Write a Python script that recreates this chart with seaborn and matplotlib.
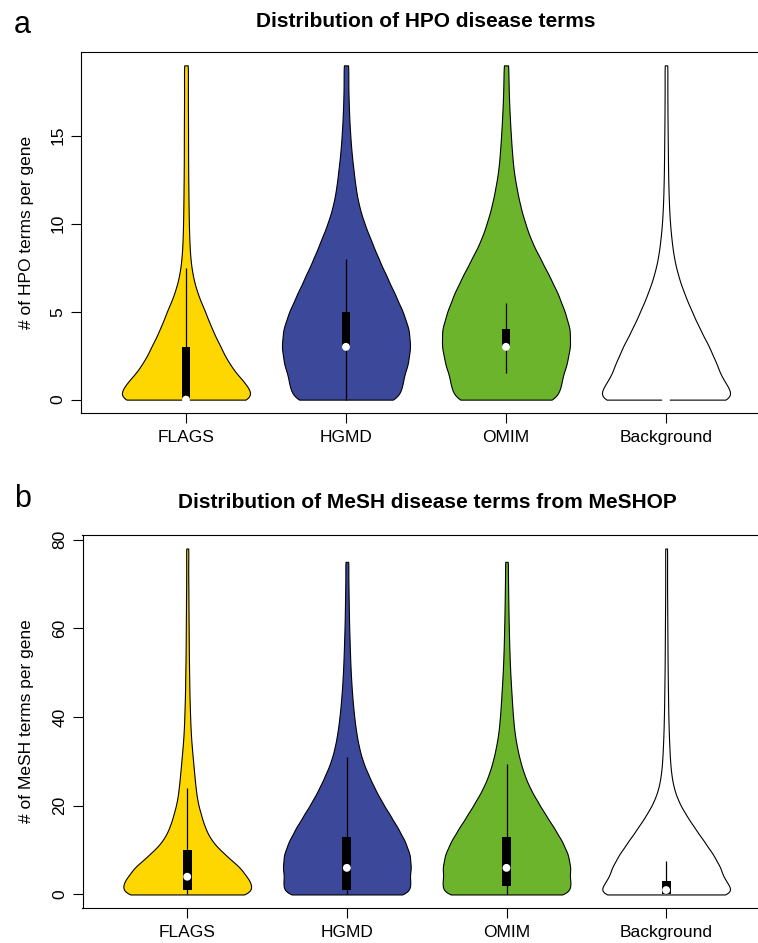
import numpy as np
import matplotlib
matplotlib.use("Agg")
import matplotlib.pyplot as plt
import seaborn as sns

groups = ['FLAGS', 'HGMD', 'OMIM', 'Background']
colours = ['#FFD700', '#3C489A', '#6BB42C', '#FFFFFF']

# panel a: number of genes at each count of HPO terms (0..19)
hpo_levels = list(range(0, 20))
hpo_flags = [780, 600, 450, 360, 270, 200, 120, 70, 45, 35, 30, 27, 25, 23, 22, 22, 21, 20, 20, 22]
hpo_hgmd = [553, 550, 610, 635, 620, 560, 480, 400, 320, 250, 180, 127, 95, 75, 55, 42, 32, 26, 22, 25]
hpo_omim = [540, 540, 600, 635, 635, 580, 515, 430, 340, 250, 190, 140, 105, 75, 60, 48, 38, 30, 25, 24]
hpo_back = [795, 610, 540, 460, 360, 275, 195, 130, 85, 60, 42, 32, 26, 22, 20, 18, 16, 15, 14, 16]

# box / whisker / median of panel a
hpo_q1 = [0, 3, 3, 0]
hpo_med = [0, 3, 3, 0]
hpo_q3 = [3, 5, 4, 0]
hpo_wlo = [0, 0, 1.5, 0]
hpo_whi = [7.5, 8, 5.5, 0]

# panel b: MeSH terms, levels 0..78 in steps of 3
mesh_levels = list(range(0, 79, 3))
mesh_flags = [687, 620, 530, 370, 240, 175, 135, 100, 83, 70, 58, 46, 36, 30, 26, 22, 20, 18, 16, 15,
              14, 13, 12, 11, 10, 10, 12]
mesh_hgmd = [660, 610, 630, 620, 570, 500, 420, 340, 270, 210, 155, 120, 95, 77, 63, 52, 43, 36, 31, 27,
             23, 20, 18, 16, 14, 16]
mesh_omim = [672, 620, 635, 610, 550, 470, 385, 305, 230, 175, 135, 105, 82, 68, 58, 50, 42, 35, 30, 26,
             23, 20, 18, 16, 14, 15]
mesh_back = [790, 625, 585, 505, 405, 305, 210, 130, 80, 55, 42, 35, 29, 25, 22, 20, 18, 16, 15, 14,
             13, 12, 11, 10, 10, 10, 11]

# box / whisker / median of panel b
mesh_q1 = [1, 1, 2, 0]
mesh_med = [4, 6, 6, 1]
mesh_q3 = [10, 13, 13, 3]
mesh_wlo = [0, 0, 0, 0]
mesh_whi = [24, 31, 29.5, 7.5]

sns.set_theme(style="ticks")
plt.rcParams['font.family'] = ['Liberation Sans', 'DejaVu Sans']
plt.rcParams['text.color'] = 'black'
plt.rcParams['axes.labelcolor'] = 'black'
plt.rcParams['xtick.color'] = 'black'
plt.rcParams['ytick.color'] = 'black'


def draw_panel(ax, levels, step, counts_list, q1, med, q3, wlo, whi):
    '''violins from the counts, then the vioplot style box on top'''
    for i, counts in enumerate(counts_list):
        vals = np.repeat(levels[:len(counts)], counts).astype(float)
        bw = 0.6 * step / vals.std(ddof=1)  # same kernel width for every group
        sns.violinplot(x=[groups[i]] * len(vals), y=vals, order=groups,
                       color=colours[i], saturation=1, inner=None, cut=0,
                       density_norm='width', width=0.8, bw_method=bw,
                       gridsize=400, linewidth=0.8, linecolor='black', ax=ax)
    pos = np.arange(len(groups), dtype=float)
    ax.vlines(pos, wlo, whi, color='black', lw=0.9, zorder=3)
    ax.bar(pos, np.subtract(q3, q1), bottom=q1, width=0.055, color='black',
           linewidth=0, zorder=4)
    ax.scatter(pos, med, s=32, color='white', edgecolor='none', zorder=5)
    ax.set_xlim(-0.656, 3.66)
    ax.set_xlabel('')
    for sp in ax.spines.values():
        sp.set_color('black')
        sp.set_linewidth(0.8)
    ax.tick_params(axis='both', length=7, width=0.8, color='black', labelsize=12.5)
    ax.tick_params(axis='x', pad=5)
    ax.tick_params(axis='y', pad=4, labelrotation=90)


fig = plt.figure(figsize=(7.58, 9.43), dpi=100)
ax1 = fig.add_axes([81 / 758, (943 - 413) / 943, 690.6 / 758, 361 / 943])
ax2 = fig.add_axes([82.5 / 758, (943 - 908.3) / 943, 689 / 758, 373.6 / 943])

draw_panel(ax1, hpo_levels, 1, [hpo_flags, hpo_hgmd, hpo_omim, hpo_back],
           hpo_q1, hpo_med, hpo_q3, hpo_wlo, hpo_whi)
ax1.set_ylim(-0.76, 19.76)
ax1.set_yticks([0, 5, 10, 15])
ax1.set_ylabel('# of HPO terms per gene', fontsize=12.5)
ax1.yaxis.set_label_coords(-0.0685, 0.5)

draw_panel(ax2, mesh_levels, 3, [mesh_flags, mesh_hgmd, mesh_omim, mesh_back],
           mesh_q1, mesh_med, mesh_q3, mesh_wlo, mesh_whi)
ax2.set_ylim(-3.12, 81.12)
ax2.set_yticks([0, 20, 40, 60, 80])
ax2.set_ylabel('# of MeSH terms per gene', fontsize=12.5)
ax2.yaxis.set_label_coords(-0.0708, 0.5)
for t in ax1.get_yticklabels() + ax2.get_yticklabels():
    t.set_va('center')

# titles and panel letters
fig.text(426 / 758, 1 - 26.7 / 943, 'Distribution of HPO disease terms',
         ha='center', va='baseline', fontsize=15, fontweight='bold')
fig.text(427 / 758, 1 - 508 / 943, 'Distribution of MeSH disease terms from MeSHOP',
         ha='center', va='baseline', fontsize=15, fontweight='bold')
fig.text(14 / 758, 1 - 33.3 / 943, 'a', ha='left', va='baseline', fontsize=22)
fig.text(14 / 758, 1 - 506.7 / 943, 'b', ha='left', va='baseline', fontsize=22)

fig.savefig('out.png', dpi=100)
